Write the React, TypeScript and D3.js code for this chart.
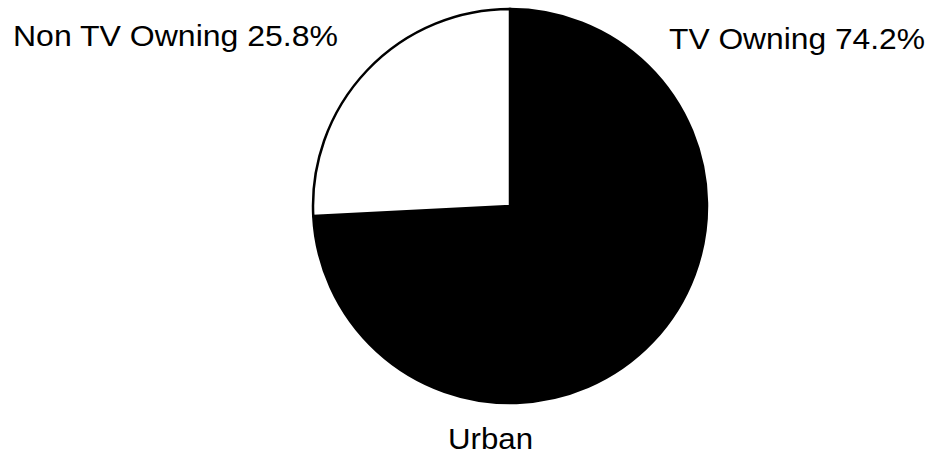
import React from "react";
import * as d3 from "d3";

const categories = ["TV Owning", "Non TV Owning"];
const values = [74.2, 25.8];
const fills = ["#000000", "#ffffff"];
const title = "Urban";

export default function App() {
  const width = 934;
  const height = 459;
  const cx = 510;
  const cy = 206;
  const r = 197;
  const pie = d3.pie<number>().sort(null).startAngle(0).endAngle(2 * Math.PI);
  const arcs = pie(values);
  const arc = d3.arc<d3.PieArcDatum<number>>().innerRadius(0).outerRadius(r);
  const font = "'Liberation Sans', Arial, Helvetica, sans-serif";
  return (
    <svg
      width={width}
      height={height}
      style={{ position: "absolute", left: 0, top: 0, background: "#fff" }}
    >
      <g transform={`translate(${cx},${cy})`}>
        {arcs.map((a, i) => (
          <path key={i} d={arc(a) || ""} fill={fills[i]} stroke="#000" strokeWidth={2.5} />
        ))}
      </g>
      <text
        x={13}
        y={46}
        fontFamily={font}
        fontSize={29}
        textLength={325}
        lengthAdjust="spacingAndGlyphs"
        fill="#000"
      >
        {`${categories[1]} ${values[1].toFixed(1)}%`}
      </text>
      <text
        x={669}
        y={49}
        fontFamily={font}
        fontSize={29}
        textLength={256}
        lengthAdjust="spacingAndGlyphs"
        fill="#000"
      >
        {`${categories[0]} ${values[0].toFixed(1)}%`}
      </text>
      <text
        x={448}
        y={449}
        fontFamily={font}
        fontSize={29}
        textLength={85}
        lengthAdjust="spacingAndGlyphs"
        fill="#000"
      >
        {title}
      </text>
    </svg>
  );
}
